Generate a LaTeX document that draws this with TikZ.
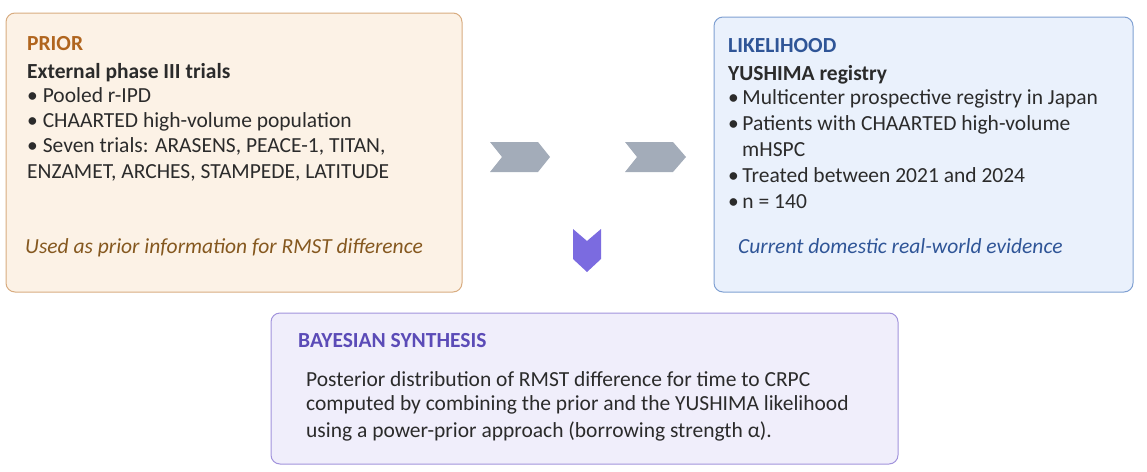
\documentclass[tikz,border=0pt]{standalone}
\usepackage{fontspec}
\setmainfont{Carlito}
\usetikzlibrary{positioning}

\definecolor{priorfill}{HTML}{FCF2E6}
\definecolor{priorline}{HTML}{D8AC80}
\definecolor{priorhead}{HTML}{B0651E}
\definecolor{prioritalic}{HTML}{85581F}
\definecolor{likefill}{HTML}{EAF1FC}
\definecolor{likeline}{HTML}{7FA0D2}
\definecolor{likehead}{HTML}{2F5597}
\definecolor{bayesfill}{HTML}{F0EEFB}
\definecolor{bayesline}{HTML}{A193DC}
\definecolor{bayeshead}{HTML}{5B4BB7}
\definecolor{bodytext}{HTML}{2B2B2B}
\definecolor{chevgray}{HTML}{A3ACB9}
\definecolor{chevpurple}{HTML}{7B6BE0}

\begin{document}
\begin{tikzpicture}[x=1pt,y=-1pt]
\tikzset{
  panel/.style={rounded corners=9pt, line width=1pt},
  txt/.style={anchor=base west, inner sep=0pt, font=\fontsize{21.5}{26}\selectfont, text=bodytext},
  head/.style={txt, font=\fontsize{21.5}{26}\selectfont\bfseries},
  note/.style={txt, font=\fontsize{21.5}{26}\selectfont\itshape}
}
\useasboundingbox (0,0) rectangle (1147,471);
% panels
\draw [panel, fill=priorfill, draw=priorline] (6,13) rectangle (462,292);
\draw [panel, fill=likefill, draw=likeline] (714,17) rectangle (1133,292);
\draw [panel, fill=bayesfill, draw=bayesline] (271,313) rectangle (898,464);
% chevrons
\fill [chevgray] (490,142) -- (538,142) -- (550,157) -- (538,172) -- (490,172) -- (502,157) -- cycle;
\fill [chevgray] (625,142) -- (673,142) -- (686,157) -- (673,172) -- (625,172) -- (637,157) -- cycle;
\fill [chevpurple] (573,229) -- (587,241) -- (601,229) -- (601,259) -- (587,272) -- (573,259) -- cycle;
% prior
\node [head, text=priorhead] (pt) at (27,50) {PRIOR};
\node [head] (p1) at (27,78) {External phase III trials};
\node [txt] (p2) at (27,102) {• Pooled r-IPD};
\node [txt] (p3) at (27,127) {• CHAARTED high-volume population};
\node [txt] (p4) at (27,152) {• Seven trials: ARASENS, PEACE-1, TITAN,};
\node [txt] (p5) at (27,178) {ENZAMET, ARCHES, STAMPEDE, LATITUDE};
\node [note, text=prioritalic] (pn) at (25,253) {Used as prior information for RMST difference};
% likelihood
\node [head, text=likehead] (lt) at (728,52) {LIKELIHOOD};
\node [head] (l1) at (728,80) {YUSHIMA registry};
\node [txt] (l2) at (728,104) {•\,Multicenter prospective registry in Japan};
\node [txt] (l3) at (728,130) {•\,Patients with CHAARTED high-volume};
\node [txt] (l4) at (742,156) {mHSPC};
\node [txt] (l5) at (728,182) {•\,Treated between 2021 and 2024};
\node [txt] (l6) at (728,208) {•\,n = 140};
\node [note, text=likehead] (ln) at (738,253) {Current domestic real-world evidence};
% synthesis
\node [head, text=bayeshead] (bt) at (298,347) {BAYESIAN SYNTHESIS};
\node [txt] (b1) at (306,386) {Posterior distribution of RMST difference for time to CRPC};
\node [txt] (b2) at (306,410) {computed by combining the prior and the YUSHIMA likelihood};
\node [txt] (b3) at (306,437) {using a power-prior approach (borrowing strength α).};
\end{tikzpicture}
\end{document}
